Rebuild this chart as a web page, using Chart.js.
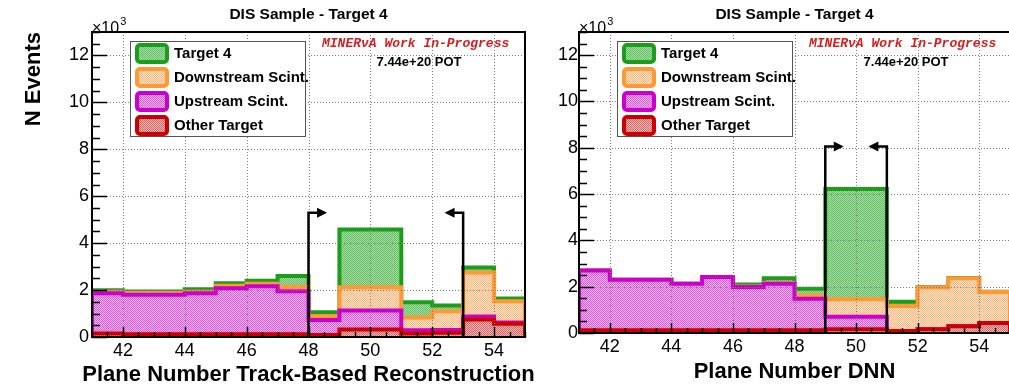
<!DOCTYPE html>
<html>
<head>
<meta charset="utf-8">
<script src="https://cdn.jsdelivr.net/npm/chart.js@4.4.1/dist/chart.umd.min.js"></script>
<style>
  html, body { margin: 0; padding: 0; background: #fff; overflow: hidden; width: 1009px; height: 385px; }
  canvas { position: absolute; top: 0; }
  #trackChart { left: 0; }
  #dnnChart { left: 540px; }
</style>
</head>
<body>
<canvas id="trackChart" width="540" height="385"></canvas>
<canvas id="dnnChart" width="480" height="385"></canvas>
<script>
/* ── DATA (events per plane, x10^3) ─────────────────────── */
const EDGES   = [41, 42, 43, 44, 45, 46, 47, 48, 49, 50, 51, 52, 53, 54, 55];
const X_TICKS = [42, 44, 46, 48, 50, 52, 54];
const Y_TICKS = [0, 2, 4, 6, 8, 10, 12];

const trackTarget4    = [0.06, 0.06, 0.06, 0.11, 0.11, 0.13, 0.47, 0.17, 2.46, 2.46, 0.65, 0.24, 0.21, 0.12];
const trackDownstream = [0.07, 0.08, 0.08, 0.07, 0.10, 0.11, 0.18, 0.16, 0.99, 0.99, 0.54, 0.80, 1.88, 0.90];
const trackUpstream   = [1.71, 1.68, 1.68, 1.74, 1.96, 2.04, 1.83, 0.64, 0.81, 0.81, 0.14, 0.12, 0.12, 0.06];
const trackOther      = [0.15, 0.12, 0.12, 0.12, 0.12, 0.12, 0.12, 0.08, 0.32, 0.32, 0.15, 0.18, 0.75, 0.56];
const trackCuts       = [{ at: 48, dir: 1 }, { at: 53, dir: -1 }];
const trackCutHeight  = 5.3;

const dnnTarget4    = [0, 0, 0, 0, 0, 0.08, 0.20, 0.29, 4.76, 4.76, 0.18, 0.01, 0.01, 0.01];
const dnnDownstream = [0, 0, 0, 0, 0, 0.02, 0.03, 0.14, 0.76, 0.76, 1.08, 1.82, 2.08, 1.34];
const dnnUpstream   = [2.58, 2.18, 2.18, 2.01, 2.30, 1.87, 2.01, 1.36, 0.54, 0.54, 0, 0, 0, 0];
const dnnOther      = [0.12, 0.12, 0.12, 0.12, 0.12, 0.12, 0.12, 0.12, 0.16, 0.16, 0.09, 0.16, 0.29, 0.43];
const dnnCuts       = [{ at: 49, dir: 1 }, { at: 51, dir: -1 }];
const dnnCutHeight  = 8.05;

const FONT = '"Liberation Sans", Arial, Helvetica, sans-serif';
Chart.defaults.font.family = FONT;
Chart.defaults.color = '#000';

/* ── FILL PATTERNS ─────────────────────────────────────── */
function dither(dark, light) {
  const c = document.createElement('canvas');
  c.width = c.height = 2;
  const g = c.getContext('2d');
  g.fillStyle = light; g.fillRect(0, 0, 2, 2);
  g.fillStyle = dark; g.fillRect(0, 0, 1, 1); g.fillRect(1, 1, 1, 1);
  return g.createPattern(c, 'repeat');
}

const STYLES = {
  target4:    { line: '#1c9e1c', fill: dither('#5fbf5f', '#acdcac') },
  downstream: { line: '#ff9933', fill: dither('#f9b984', '#fde5c8') },
  upstream:   { line: '#cc00cc', fill: dither('#d55cd5', '#f2b6f2') },
  other:      { line: '#cc0000', fill: dither('#d86464', '#f2bcbc') }
};

/* ── HELPERS ───────────────────────────────────────────── */
// stack the components bottom-up and turn each running total into a step outline
function stackSum(...parts) {
  return parts[0].map((_, i) => parts.reduce((s, p) => s + p[i], 0));
}
function histPoints(vals) {
  const pts = [{ x: EDGES[0], y: 0 }];
  vals.forEach((v, i) => {
    pts.push({ x: EDGES[i], y: v });
    pts.push({ x: EDGES[i + 1], y: v });
  });
  pts.push({ x: EDGES[EDGES.length - 1], y: 0 });
  return pts;
}
function histDataset(label, vals, style) {
  return {
    label, data: histPoints(vals),
    borderColor: style.line, backgroundColor: style.fill,
    borderWidth: 4, borderJoinStyle: 'miter', pointRadius: 0,
    fill: 'origin', tension: 0
  };
}

function drawArrow(ctx, x, y, cut, height) {
  const px = x.getPixelForValue(cut.at);
  const base = y.getPixelForValue(0);
  const top = y.getPixelForValue(height);
  const tip = x.getPixelForValue(cut.at + 0.6 * cut.dir);
  ctx.strokeStyle = '#000'; ctx.fillStyle = '#000';
  ctx.lineWidth = 2.5; ctx.lineJoin = 'miter';
  ctx.beginPath();
  ctx.moveTo(px, base); ctx.lineTo(px, top); ctx.lineTo(tip - 7 * cut.dir, top);
  ctx.stroke();
  ctx.beginPath();
  ctx.moveTo(tip, top);
  ctx.lineTo(tip - 10 * cut.dir, top - 5);
  ctx.lineTo(tip - 10 * cut.dir, top + 5);
  ctx.closePath();
  ctx.fill();
}

/* ── FRAME, GRID, CUTS, LEGEND ─────────────────────────── */
function rootOverlay(cuts, cutHeight, geo) {
  return {
    id: 'rootOverlay',
    afterDatasetsDraw(chart) {
      const { ctx, chartArea: a, scales: { x, y } } = chart;
      ctx.save();

      // dotted grid on top of the histograms
      ctx.strokeStyle = '#7a7a7a'; ctx.lineWidth = 1; ctx.setLineDash([1, 2]);
      ctx.beginPath();
      X_TICKS.forEach(v => {
        const px = Math.round(x.getPixelForValue(v)) + 0.5;
        ctx.moveTo(px, a.top); ctx.lineTo(px, a.bottom);
      });
      Y_TICKS.slice(1).forEach(v => {
        const py = Math.round(y.getPixelForValue(v)) + 0.5;
        ctx.moveTo(a.left, py); ctx.lineTo(a.right, py);
      });
      ctx.stroke();
      ctx.setLineDash([]);

      // inner tick marks
      ctx.strokeStyle = '#000'; ctx.lineWidth = 1.5;
      ctx.beginPath();
      for (let v = 0; v <= 13; v += 0.5) {
        const py = Math.round(y.getPixelForValue(v)) + 0.5;
        const len = v % 2 === 0 ? 15 : 8;
        ctx.moveTo(a.left, py); ctx.lineTo(a.left + len, py);
      }
      for (let v = 41; v <= 55; v += 0.5) {
        const px = Math.round(x.getPixelForValue(v)) + 0.5;
        const len = v % 2 === 0 ? 10 : 5;
        ctx.moveTo(px, a.bottom); ctx.lineTo(px, a.bottom - len);
      }
      ctx.stroke();

      ctx.lineWidth = 2;
      ctx.strokeRect(a.left, a.top, a.right - a.left, a.bottom - a.top);

      cuts.forEach(c => drawArrow(ctx, x, y, c, cutHeight));

      // legend box
      const L = a.left;
      ctx.fillStyle = '#fff';
      ctx.fillRect(L + 38, 41, 175, 95);
      ctx.strokeStyle = '#555'; ctx.lineWidth = 1;
      ctx.strokeRect(L + 38.5, 41.5, 175, 95);
      const rows = [53, 77, 101, 125];
      chart.data.datasets.slice().reverse().forEach((ds, i) => {
        const cy = rows[i];
        ctx.beginPath();
        ctx.roundRect(L + 45, cy - 8, 30, 17, 3);
        ctx.fillStyle = ds.backgroundColor; ctx.fill();
        ctx.strokeStyle = ds.borderColor; ctx.lineWidth = 4; ctx.stroke();
        ctx.fillStyle = '#000';
        ctx.font = 'bold 15px ' + FONT;
        ctx.textAlign = 'left'; ctx.textBaseline = 'middle';
        ctx.fillText(ds.label, L + 82, cy + 1);
      });

      // titles and labels
      const cx = (a.left + a.right) / 2;
      ctx.fillStyle = '#000';
      ctx.font = 'bold 15.5px ' + FONT;
      ctx.textAlign = 'center'; ctx.textBaseline = 'middle';
      ctx.fillText('DIS Sample - Target 4', cx, 15);

      // axis title is allowed to run past the frame edges
      ctx.font = `bold ${geo.xTitleSize}px ${FONT}`;
      ctx.fillText(geo.xTitle, cx, geo.xTitleY);

      ctx.textAlign = 'left'; ctx.textBaseline = 'alphabetic';
      ctx.font = '16px ' + FONT;
      ctx.fillText('\u00d710', L, 33);
      const w = ctx.measureText('\u00d710').width;
      ctx.font = '11px ' + FONT;
      ctx.fillText('3', L + w + 1, 25);

      ctx.fillStyle = '#d42020';
      ctx.font = 'italic bold 13px "Liberation Mono", "Courier New", monospace';
      ctx.textBaseline = 'middle';
      ctx.fillText('MINER\u03bdA Work In-Progress', L + 230, 44);

      ctx.fillStyle = '#000';
      ctx.font = 'bold 13px ' + FONT;
      ctx.textAlign = 'center';
      ctx.fillText('7.44e+20 POT', L + 327, 62);

      ctx.restore();
    }
  };
}

/* ── CHARTS ────────────────────────────────────────────── */
function makePanel(id, parts, cuts, cutHeight, geo) {
  const [target4, downstream, upstream, other] = parts;
  new Chart(document.getElementById(id), {
    type: 'line',
    data: {
      datasets: [
        histDataset('Other Target', other, STYLES.other),
        histDataset('Upstream Scint.', stackSum(other, upstream), STYLES.upstream),
        histDataset('Downstream Scint.', stackSum(other, upstream, downstream), STYLES.downstream),
        histDataset('Target 4', stackSum(other, upstream, downstream, target4), STYLES.target4)
      ]
    },
    options: {
      responsive: false, animation: false, devicePixelRatio: 1, events: [],
      layout: { padding: { left: 0, right: geo.padRight, top: 32, bottom: 0 } },
      plugins: { legend: { display: false }, tooltip: { enabled: false } },
      scales: {
        x: {
          type: 'linear', min: 41, max: 55,
          afterBuildTicks: s => { s.ticks = X_TICKS.map(v => ({ value: v })); },
          afterFit: s => { s.height = geo.xHeight; },
          grid: { display: false, drawTicks: false }, border: { display: false },
          ticks: { font: { size: 18 }, padding: 3, maxRotation: 0, color: '#000' }
        },
        y: {
          type: 'linear', min: 0, max: 13,
          afterBuildTicks: s => { s.ticks = Y_TICKS.map(v => ({ value: v })); },
          afterFit: s => { s.width = geo.yWidth; },
          grid: { display: false, drawTicks: false }, border: { display: false },
          ticks: { font: { size: 18 }, padding: geo.yTickPad, color: '#000' },
          title: {
            display: !!geo.yTitle, text: geo.yTitle || '', align: 'end', color: '#000',
            font: { size: 22, weight: 'bold', lineHeight: 1 },
            padding: { top: 23, bottom: 0 }
          }
        }
      }
    },
    plugins: [rootOverlay(cuts, cutHeight, geo)]
  });
}

makePanel('trackChart', [trackTarget4, trackDownstream, trackUpstream, trackOther], trackCuts, trackCutHeight, {
  padRight: 15, xHeight: 48, yWidth: 92, yTickPad: 3,
  xTitle: 'Plane Number Track-Based Reconstruction', xTitleSize: 22, xTitleY: 375,
  yTitle: 'N Events'
});

makePanel('dnnChart', [dnnTarget4, dnnDownstream, dnnUpstream, dnnOther], dnnCuts, dnnCutHeight, {
  padRight: 10, xHeight: 52, yWidth: 39, yTickPad: 1,
  xTitle: 'Plane Number DNN', xTitleSize: 22, xTitleY: 372
});
</script>
</body>
</html>
